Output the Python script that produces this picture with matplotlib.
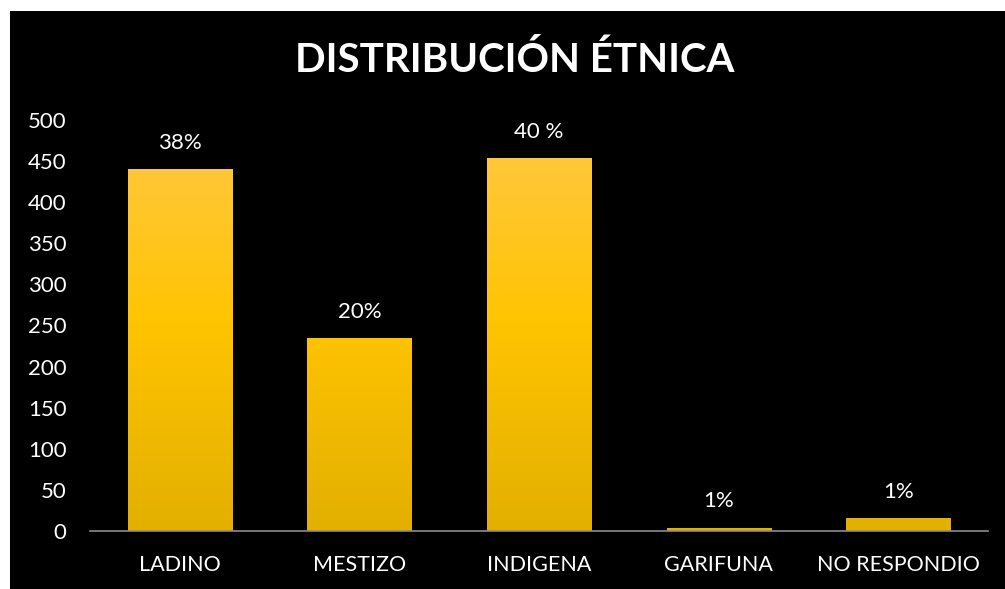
import numpy as np
import matplotlib.pyplot as plt
from matplotlib.patches import Rectangle
from matplotlib.colors import LinearSegmentedColormap

categorias = ["LADINO", "MESTIZO", "INDIGENA", "GARIFUNA", "NO RESPONDIO"]
valores = [440, 235, 454, 4, 16]
etiquetas = ["38%", "20%", "40 %", "1%", "1%"]

plt.rcParams['font.family'] = ['Lato', 'DejaVu Sans']

fig = plt.figure(figsize=(10.05, 5.89), dpi=100, facecolor='white')
# fondo negro con borde blanco arriba e izquierda
fig.patches.append(Rectangle((10/1005, 0), 1, 1 - 11/589, transform=fig.transFigure,
                             facecolor='black', edgecolor='none', zorder=-1))

ax = fig.add_axes([90/1005, 1 - 531/589, 898/1005, 411/589])
ax.set_facecolor('black')
ax.patch.set_alpha(0)

x = np.arange(len(categorias))
barras = ax.bar(x, valores, width=0.58, color='#FFC400', zorder=2)

cmap = LinearSegmentedColormap.from_list('oro', ['#E3B000', '#FFC400', '#FFC848'])
grad = np.linspace(0, 1, 256).reshape(-1, 1)
for b in barras:
    img = ax.imshow(grad, cmap=cmap, origin='lower', aspect='auto',
                    extent=[b.get_x(), b.get_x() + b.get_width(), 0, 500], zorder=3)
    img.set_clip_path(b)

for xi, v, t in zip(x, valores, etiquetas):
    ax.text(xi, v + 32, t, ha='center', va='center', color='white', fontsize=16)

ax.set_xlim(-0.5, len(categorias) - 0.5)
ax.set_ylim(0, 500)
ax.set_yticks(range(0, 501, 50))
ax.set_xticks(x)
ax.set_xticklabels(categorias, fontsize=15.5)
ax.tick_params(axis='both', length=0, colors='white')
ax.tick_params(axis='y', pad=17, labelsize=16)
ax.tick_params(axis='x', pad=17)
for s in ['top', 'right', 'left']:
    ax.spines[s].set_visible(False)
ax.spines['bottom'].set_color('#8C8C8C')
ax.spines['bottom'].set_linewidth(1.2)
ax.spines['bottom'].set_zorder(4)

fig.text(515/1005, 1 - 60/589, "DISTRIBUCIÓN ÉTNICA", ha='center', va='center',
         color='white', fontsize=29, fontweight='bold')

fig.savefig('out.png', dpi=100, facecolor=fig.get_facecolor())
